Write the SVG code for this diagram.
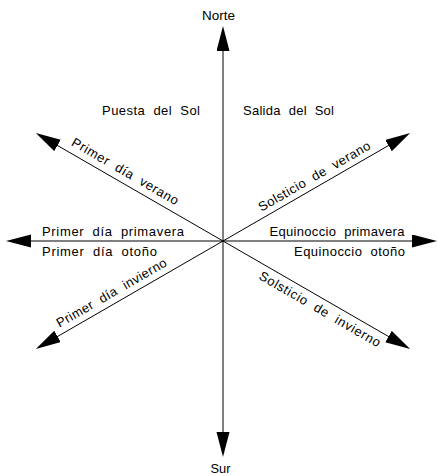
<svg xmlns="http://www.w3.org/2000/svg" width="437" height="476" viewBox="0 0 437 476">
<style>
  .ln { stroke: #000; stroke-width: 1; fill: none; marker-end: url(#ah); }
  text { font-family: "Liberation Sans", Arial, sans-serif; font-size: 13px; fill: #000; word-spacing: 4px; }
</style>
<defs>
  <marker id="ah" markerUnits="userSpaceOnUse" markerWidth="26" markerHeight="14" refX="15" refY="6.5" orient="auto">
    <path d="M0,0 L25,6.5 L0,13 z" fill="#000"/>
  </marker>
</defs>
<rect width="437" height="476" fill="#fff"/>
<g id="connectors">
  <line class="ln" x1="223" y1="241" x2="223" y2="36"/>
  <line class="ln" x1="223" y1="241" x2="223" y2="447"/>
  <line class="ln" x1="223" y1="241" x2="16" y2="241"/>
  <line class="ln" x1="223" y1="241" x2="427" y2="241"/>
  <line class="ln" x1="223" y1="241" x2="44.5" y2="138"/>
  <line class="ln" x1="223" y1="241" x2="401.5" y2="138"/>
  <line class="ln" x1="223" y1="241" x2="44.5" y2="344"/>
  <line class="ln" x1="223" y1="241" x2="401.5" y2="344"/>
</g>
<g id="norte"><text x="218.5" y="20" text-anchor="middle" textLength="33" lengthAdjust="spacingAndGlyphs">Norte</text></g>
<g id="sur"><text x="220.5" y="473" text-anchor="middle" textLength="20" lengthAdjust="spacingAndGlyphs">Sur</text></g>
<g id="puesta"><text x="102" y="115" textLength="98" lengthAdjust="spacing">Puesta del Sol</text></g>
<g id="salida"><text x="243" y="115" textLength="91" lengthAdjust="spacing">Salida del Sol</text></g>
<g id="primavera-oeste"><text x="42" y="236" textLength="142" lengthAdjust="spacing">Primer día primavera</text></g>
<g id="otono-oeste"><text x="42" y="255.5" textLength="115" lengthAdjust="spacing">Primer día otoño</text></g>
<g id="primavera-este"><text x="269.5" y="236" textLength="135" lengthAdjust="spacing">Equinoccio primavera</text></g>
<g id="otono-este"><text x="294" y="255.5" textLength="111" lengthAdjust="spacing">Equinoccio otoño</text></g>
<g id="verano-oeste" transform="translate(223,241) rotate(30)"><text x="-180" y="-7" textLength="121" lengthAdjust="spacing">Primer día verano</text></g>
<g id="verano-este" transform="translate(223,241) rotate(-30)"><text x="48" y="-6" textLength="127" lengthAdjust="spacing">Solsticio de verano</text></g>
<g id="invierno-oeste" transform="translate(223,241) rotate(-30)"><text x="-185" y="-6.5" textLength="125" lengthAdjust="spacing">Primer día invierno</text></g>
<g id="invierno-este" transform="translate(223,241) rotate(30)"><text x="49" y="15" textLength="138" lengthAdjust="spacing">Solsticio de invierno</text></g>
</svg>
